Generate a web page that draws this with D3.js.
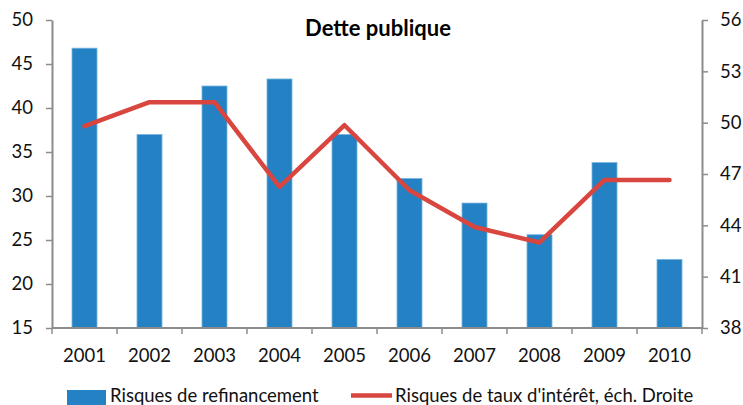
<!DOCTYPE html>
<html><head><meta charset="utf-8">
<script src="https://cdn.jsdelivr.net/npm/d3@7"></script>
<style>
html,body{margin:0;padding:0;background:#fff;}
svg{display:block;font-family:Lato,"Liberation Sans",sans-serif;}
</style></head>
<body>
<svg id="c" width="743" height="405"></svg>
<script>
const years = ["2001","2002","2003","2004","2005","2006","2007","2008","2009","2010"];
const refinancement = [46.8, 37.0, 42.5, 43.3, 37.0, 32.0, 29.2, 25.6, 33.8, 22.8];
const tauxInteret = [49.8, 51.2, 51.2, 46.25, 49.85, 46.05, 43.9, 43.0, 46.65, 46.65];
const leftTicks = [15, 20, 25, 30, 35, 40, 45, 50];
const rightTicks = [38, 41, 44, 47, 50, 53, 56];
const title = "Dette publique";
const legendLabels = ["Risques de refinancement", "Risques de taux d'intérêt, éch. Droite"];

const svg = d3.select("#c");
const L = 52, R = 702, T = 20, B = 328;
const axisColor = "#8c8c8c";
const barColor = "#2481c3";
const lineColor = "#d9463f";
const fs = 18.5;

const x = d3.scaleBand().domain(years).range([L, R]).paddingInner(0.615).paddingOuter(0.3075);
const yL = d3.scaleLinear().domain([15, 50]).range([B, T]);
const yR = d3.scaleLinear().domain([38, 56]).range([B, T]);

// bars
svg.append("g").selectAll("rect").data(years).join("rect")
  .attr("x", d => x(d))
  .attr("width", x.bandwidth())
  .attr("y", (d,i) => yL(refinancement[i]))
  .attr("height", (d,i) => B - yL(refinancement[i]))
  .attr("fill", barColor)
  .attr("stroke", "#7db6e0").attr("stroke-width", 0.8);

// axes
function styleAxis(g){
  g.selectAll(".domain").attr("stroke", axisColor).attr("stroke-width", 2);
  g.selectAll(".tick line").attr("stroke", axisColor).attr("stroke-width", 1.5);
  g.selectAll(".tick text").attr("fill", "#111").attr("font-size", fs).attr("font-family", "Lato, sans-serif");
}
const gl = svg.append("g").attr("transform", `translate(${L},0)`)
  .call(d3.axisLeft(yL).tickValues(leftTicks).tickSize(6).tickSizeOuter(0).tickPadding(13));
styleAxis(gl);
const gr = svg.append("g").attr("transform", `translate(${R},0)`)
  .call(d3.axisRight(yR).tickValues(rightTicks).tickSize(6).tickSizeOuter(0).tickPadding(12));
styleAxis(gr);

// bottom axis: line + boundary ticks
const gb = svg.append("g");
gb.append("line").attr("x1", L).attr("x2", R).attr("y1", B).attr("y2", B)
  .attr("stroke", axisColor).attr("stroke-width", 2);
const bounds = years.map(d => x(d) - (x.step()-x.bandwidth())/2).concat([R]);
gb.selectAll("line.t").data(bounds).join("line").attr("class","t")
  .attr("x1", d => d).attr("x2", d => d).attr("y1", B).attr("y2", B + 6)
  .attr("stroke", axisColor).attr("stroke-width", 1.5);
gb.selectAll("text").data(years).join("text")
  .attr("x", d => x(d) + x.bandwidth()/2).attr("y", 362)
  .attr("text-anchor", "middle").attr("font-size", fs).attr("fill", "#111")
  .text(d => d);

// line
const line = d3.line().x((d,i) => x(years[i]) + x.bandwidth()/2).y(d => yR(d));
svg.append("path").datum(tauxInteret).attr("d", line)
  .attr("fill", "none").attr("stroke", lineColor).attr("stroke-width", 4.5)
  .attr("stroke-linejoin", "round").attr("stroke-linecap", "round");

// title
svg.append("text").attr("x", 378).attr("y", 36).attr("text-anchor", "middle")
  .attr("font-size", 22).attr("font-weight", "bold").attr("fill", "#000").text(title);

// legend
svg.append("rect").attr("x", 67).attr("y", 390).attr("width", 39).attr("height", 16).attr("fill", barColor);
svg.append("text").attr("x", 110).attr("y", 402).attr("font-size", fs).attr("fill", "#111").text(legendLabels[0]);
svg.append("line").attr("x1", 351).attr("x2", 392).attr("y1", 395.5).attr("y2", 395.5)
  .attr("stroke", lineColor).attr("stroke-width", 4.5);
svg.append("text").attr("x", 395).attr("y", 402).attr("font-size", fs).attr("fill", "#111").text(legendLabels[1]);
</script>
</body></html>
